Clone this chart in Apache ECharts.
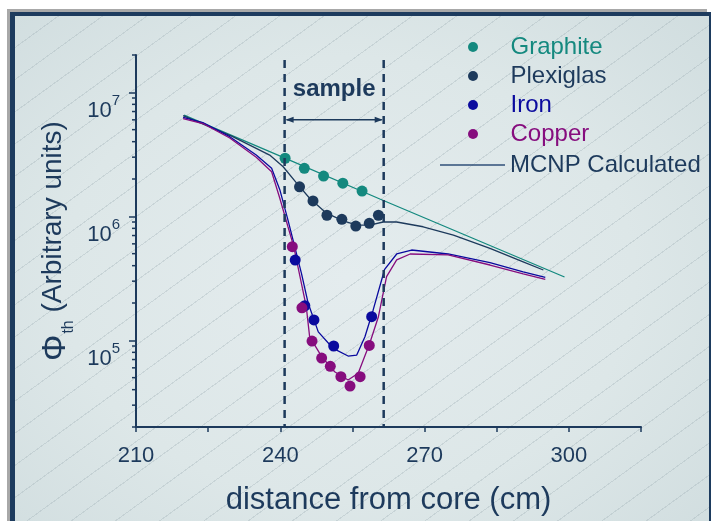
<!DOCTYPE html>
<html>
<head>
<meta charset="utf-8">
<title>Thermal flux vs distance from core</title>
<script src="https://cdn.jsdelivr.net/npm/echarts@6/dist/echarts.min.js"></script>
<style>
  html, body { margin: 0; padding: 0; background: #fff; }
  #wrap { position: relative; width: 711px; height: 521px; overflow: hidden; background: #fff; }
  #edge { position: absolute; left: 7px; top: 9px; width: 700px; height: 512px; background: #a8a8a8; }
  #border { position: absolute; left: 10px; top: 12px; width: 701px; height: 509px; background: #1d3b5e; }
  #panel { position: absolute; left: 15px; top: 16px; width: 694px; height: 505px;
    background:
      repeating-linear-gradient(144deg, rgba(255,255,255,0) 0px, rgba(255,255,255,0) 25px, rgba(160,176,182,0.35) 25px, rgba(160,176,182,0.35) 26px),
      radial-gradient(ellipse 75% 80% at 48% 52%, #e4ecee 0%, #dde7e8 55%, #cfdcde 100%); }
  #chart { position: absolute; left: 0; top: 0; width: 711px; height: 521px; }
</style>
</head>
<body>
<div id="wrap">
  <div id="edge"></div>
  <div id="border"></div>
  <div id="panel"></div>
  <div id="chart"></div>
</div>
<script>
// measured points (distance in cm, flux in arbitrary units)
const graphiteX = [241, 245, 249, 253, 257];
const graphiteY = [2.94e6, 2.44e6, 2.11e6, 1.85e6, 1.60e6];
const plexiX = [244, 246.8, 249.7, 252.8, 255.7, 258.5, 260.4];
const plexiY = [1.73e6, 1.33e6, 1.02e6, 9.46e5, 8.35e5, 8.78e5, 1.02e6];
const ironX = [243.1, 245.1, 247, 251.1, 259];
const ironY = [4.44e5, 1.90e5, 1.46e5, 9.0e4, 1.55e5];
const copperX = [242.5, 244.5, 246.6, 248.6, 250.4, 252.6, 254.5, 256.6, 258.5];
const copperY = [5.69e5, 1.83e5, 9.87e4, 7.19e4, 6.17e4, 5.09e4, 4.28e4, 5.09e4, 9.1e4];

// MCNP calculated curves
const mcnpGraphiteX = [220, 240, 260.7, 299.1];
const mcnpGraphiteY = [6.56e6, 3.06e6, 1.38e6, 3.24e5];
const mcnpPlexiX = [219.8, 230, 237.8, 240.6, 243.4, 246.1, 249.6, 253.1, 255.9, 258.6, 261.4, 264.2, 269.7, 276, 283.6, 290.5, 294.7];
const mcnpPlexiY = [6.5e6, 4.42e6, 3.12e6, 2.51e6, 1.85e6, 1.40e6, 1.06e6, 9.2e5, 8.5e5, 8.5e5, 9.0e5, 9.0e5, 8.24e5, 7.06e5, 5.52e5, 4.30e5, 3.69e5];
const mcnpIronX = [219.8, 223.9, 229.5, 235.0, 238.2, 239.9, 241.6, 243.0, 244.4, 245.8, 247.9, 251.0, 254.1, 255.9, 257.6, 259.3, 261.7, 264.2, 267.3, 274.9, 283.6, 290.5, 295.1];
const mcnpIronY = [6.28e6, 5.69e6, 4.39e6, 3.12e6, 2.44e6, 1.64e6, 9.33e5, 5.69e5, 3.47e5, 1.99e5, 1.17e5, 8.6e4, 7.47e4, 7.6e4, 1.07e5, 1.75e5, 3.74e5, 4.97e5, 5.35e5, 4.97e5, 4.23e5, 3.57e5, 3.22e5];
const mcnpCopperX = [219.8, 223.9, 229.5, 235.0, 238.2, 239.9, 241.6, 242.8, 244.1, 245.4, 246.1, 248.6, 251.3, 254.1, 256.2, 258.6, 260.4, 262.1, 264.2, 267.0, 274.9, 283.6, 290.5, 295.1];
const mcnpCopperY = [6.14e6, 5.6e6, 4.28e6, 3.0e6, 2.29e6, 1.40e6, 8.24e5, 5.69e5, 3.26e5, 1.87e5, 1.07e5, 7.38e4, 5.58e4, 4.79e4, 5.42e4, 9.46e4, 1.55e5, 3.26e5, 4.45e5, 4.97e5, 4.88e5, 4.05e5, 3.43e5, 3.1e5];

// axes
const xLabels = [210, 240, 270, 300];
const yMajor = [1e5, 1e6, 1e7];
const yMinor = [2e4, 3e4, 4e4, 5e4, 6e4, 7e4, 8e4, 9e4,
  2e5, 3e5, 4e5, 5e5, 6e5, 7e5, 8e5, 9e5,
  2e6, 3e6, 4e6, 5e6, 6e6, 7e6, 8e6, 9e6, 2e7];

// sample region
const sampleEdges = [240.9, 261.5];
const sampleTop = 1.82e7;
const arrowLevel = 6e6;
const labelLevel = 1.06e7;

const font = 'Liberation Sans, Arial, sans-serif';
const navy = '#1d3a5c';
const teal = '#14897f';
const blue = '#0a0a9e';
const purple = '#860d7e';

function zip(xs, ys) {
  return xs.map((x, i) => [x, ys[i]]);
}

var chart = echarts.init(document.getElementById('chart'));

function dots(name, xs, ys, color) {
  return {
    name: name, type: 'scatter', data: zip(xs, ys),
    symbol: 'circle', symbolSize: 11, z: 4,
    itemStyle: {color: color, opacity: 1}
  };
}

function curve(name, xs, ys, color) {
  return {
    name: name, type: 'line', data: zip(xs, ys),
    symbol: 'none', z: 3,
    lineStyle: {color: color, width: 1.3},
    itemStyle: {color: color}
  };
}

var option = {
  animation: false,
  textStyle: {fontFamily: font},
  grid: {left: 136, right: 70, top: 55, bottom: 94},
  legend: [{
    orient: 'vertical', left: 463, top: 30,
    itemWidth: 65, itemHeight: 10, itemGap: 5,
    textStyle: {fontSize: 24, fontFamily: font},
    data: [
      {name: 'Graphite', icon: 'circle', textStyle: {color: teal}},
      {name: 'Plexiglas', icon: 'circle', textStyle: {color: navy}},
      {name: 'Iron', icon: 'circle', textStyle: {color: blue}},
      {name: 'Copper', icon: 'circle', textStyle: {color: purple}}
    ]
  }, {
    orient: 'vertical', left: 435, top: 148,
    itemWidth: 65, itemHeight: 1.5, icon: 'rect',
    textStyle: {fontSize: 24, fontFamily: font},
    data: [{name: 'MCNP Calculated', textStyle: {color: navy}, itemStyle: {color: '#2f4f78'}}]
  }],
  xAxis: {
    type: 'value', min: 210, max: 315, interval: 15,
    axisLine: {show: true, onZero: false, lineStyle: {color: navy, width: 2}},
    axisTick: {show: true, length: 5, lineStyle: {color: navy, width: 1.5}},
    axisLabel: {customValues: xLabels, fontSize: 22, color: navy, margin: 18, fontFamily: font},
    splitLine: {show: false},
    name: 'distance from core (cm)', nameLocation: 'middle', nameGap: 58,
    nameTextStyle: {fontSize: 31, color: navy, fontFamily: font}
  },
  yAxis: {
    type: 'log', logBase: 10, min: 2e4, max: 2e7,
    axisLine: {show: true, lineStyle: {color: navy, width: 2}},
    axisTick: {show: true, customValues: yMajor, length: 7, lineStyle: {color: navy, width: 1.5}},
    axisLabel: {
      customValues: yMajor, margin: 16, padding: [38, 0, 0, 0],
      formatter: function (v) {
        return '{b|10}{e|' + Math.round(Math.log10(v)) + '}';
      },
      rich: {
        b: {fontSize: 22, lineHeight: 22, color: navy, fontFamily: font, verticalAlign: 'bottom'},
        e: {fontSize: 15, lineHeight: 15, color: navy, fontFamily: font, verticalAlign: 'bottom', padding: [0, 0, 14, 0]}
      }
    },
    splitLine: {show: false},
    name: '{phi|Φ}{sub|th}{t| (Arbitrary units)}', nameLocation: 'middle', nameGap: 61, nameRotate: 90,
    nameTextStyle: {
      color: navy,
      rich: {
        phi: {fontSize: 33, lineHeight: 32, color: navy, fontFamily: font, verticalAlign: 'top'},
        sub: {fontSize: 16, lineHeight: 16, color: navy, fontFamily: font, verticalAlign: 'top', padding: [21, 0, 0, 1]},
        t: {fontSize: 28, lineHeight: 32, color: navy, fontFamily: font, verticalAlign: 'top'}
      }
    }
  },
  series: [
    curve('graphite calc', mcnpGraphiteX, mcnpGraphiteY, teal),
    curve('MCNP Calculated', mcnpPlexiX, mcnpPlexiY, navy),
    curve('iron calc', mcnpIronX, mcnpIronY, blue),
    curve('copper calc', mcnpCopperX, mcnpCopperY, purple),
    dots('Graphite', graphiteX, graphiteY, teal),
    dots('Plexiglas', plexiX, plexiY, navy),
    dots('Iron', ironX, ironY, blue),
    dots('Copper', copperX, copperY, purple),
    {
      // log minor ticks on the y axis (2..9 of every decade)
      type: 'custom', z: 5, silent: true, clip: false,
      data: yMinor.map(v => [210, v]),
      renderItem: function (params, api) {
        var p = api.coord([api.value(0), api.value(1)]);
        return {
          type: 'line',
          shape: {x1: p[0] - 4, y1: p[1], x2: p[0], y2: p[1]},
          style: {stroke: navy, lineWidth: 1.5}
        };
      }
    },
    {
      type: 'custom', z: 5, silent: true,
      data: [sampleEdges],
      renderItem: function (params, api) {
        var x0 = api.value(0), x1 = api.value(1);
        var children = [];
        [x0, x1].forEach(function (x) {
          var top = api.coord([x, sampleTop]);
          var bot = api.coord([x, 2e4]);
          children.push({
            type: 'line',
            shape: {x1: top[0], y1: top[1], x2: bot[0], y2: bot[1]},
            style: {stroke: navy, lineWidth: 2.5, lineDash: [8, 6]}
          });
        });
        var a = api.coord([x0, arrowLevel]);
        var b = api.coord([x1, arrowLevel]);
        children.push({
          type: 'line',
          shape: {x1: a[0] + 2, y1: a[1], x2: b[0] - 2, y2: b[1]},
          style: {stroke: navy, lineWidth: 1.5}
        });
        children.push({
          type: 'polygon',
          shape: {points: [[a[0] + 1, a[1]], [a[0] + 9, a[1] - 3], [a[0] + 9, a[1] + 3]]},
          style: {fill: navy}
        });
        children.push({
          type: 'polygon',
          shape: {points: [[b[0] - 1, b[1]], [b[0] - 9, b[1] - 3], [b[0] - 9, b[1] + 3]]},
          style: {fill: navy}
        });
        var c = api.coord([(x0 + x1) / 2, labelLevel]);
        children.push({
          type: 'text',
          style: {
            x: c[0], y: c[1], text: 'sample', fill: navy,
            font: 'bold 24px ' + font, textAlign: 'center', textVerticalAlign: 'middle'
          }
        });
        return {type: 'group', children: children};
      }
    }
  ]
};

chart.setOption(option);
</script>
</body>
</html>
